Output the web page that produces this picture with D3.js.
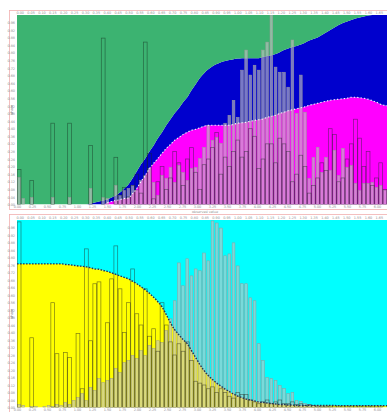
<!DOCTYPE html>
<html>
<head>
<meta charset="utf-8">
<script src="https://cdn.jsdelivr.net/npm/d3@7"></script>
<style>
  body { margin: 0; background: #fff; }
  svg { display: block; }
  text { font-family: "DejaVu Sans", sans-serif; }
</style>
</head>
<body>
<svg id="chart" width="387" height="412"></svg>
<script>
// ---------- data ----------
const N = 88;
const categories = d3.range(N);

// upper panel: stacked shares (percent) per bin
const pinkShare = [
  0,0,0,0,0,0,0,0,0,0,0,0,0,0,0,0,0,0,0,0,0,
  1,1.6,2.1,2.6,3.2,3.4,5.8,8.5,12.2,15.3,19,21.7,24.3,27,29.6,31.7,33.9,35.4,37,38.1,39.2,39.7,40.5,41.3,41.8,
  41.8,41.8,41.8,41.8,41.8,42.3,42.9,43.1,43.4,43.9,44.4,44.7,45.2,46,46.6,47.1,48.1,48.7,49.5,50,50.5,51.1,51.6,
  52.4,52.9,53.4,54,54.5,55,55.3,55.6,55.8,56.1,56.6,56.6,56.3,56.1,55.6,54.8,54,52.9,52.1
];
const blueShare = [
  0,0,0,0,0,0,0,0,0,0,0,0,0,0,0,0,0,
  0.5,1,1.6,2.1,1.6,2.1,2.7,3.7,5.3,7.2,8,9,9,9,9,9.5,10.6,11.1,12.2,13.3,14.2,15.4,17,18.5,21.1,23.8,26.2,28,29.6,
  31.2,32.3,33.3,33.9,34.4,34.4,34.1,34.1,33.8,33.3,32.8,32.5,32.6,32.3,32.2,32.3,32.3,32.8,32.8,33.1,33.1,33.3,
  33.8,34.1,34.4,34.7,35.4,36.2,37.1,38.1,39.1,40,40.5,40.8,41.5,42.4,43.1,44.1,45.2,46,47.1,47.9
];
const greenShare = [
  100,100,100,100,100,100,100,100,100,100,100,100,100,100,100,100,100,
  99.5,99,98.4,97.9,97.4,96.3,95.2,93.7,91.5,89.4,86.2,82.5,78.8,75.7,72,68.8,65.1,61.9,58.2,55,51.9,49.2,46,43.4,
  39.7,36.5,33.3,30.7,28.6,27,25.9,24.9,24.3,23.8,23.3,23,22.8,22.8,22.8,22.8,22.8,22.2,21.7,21.2,20.6,19.6,18.5,
  17.7,16.9,16.4,15.6,14.6,13.5,12.7,11.9,10.6,9.3,7.9,6.6,5.3,4.2,3.4,2.6,1.9,1.3,0.8,0.3,0,0,0,0
];
// upper panel: filled counts and outlined counts
const upperFilled = [
  14.3,3.2,0,3.7,0,0,0,0,3.7,0,0,0,3.7,0,0,0,0,8.5,0,0,3.7,3.2,0,10.1,
  4.8,7.4,8.5,10,7.4,12.7,15.3,19,11.6,4.8,15.3,13.8,19.6,11.6,20.6,16.9,12.7,19,19.6,24.3,30.2,41.8,
  33.9,35.4,32.3,42.9,47.1,55,46,70.9,81.5,68.3,73.5,70.9,81.5,85.7,100,72.5,69.8,69.8,61.9,86.8,48.1,
  68.3,48.7,13.8,24.9,30.2,16.9,24.9,18,28.6,15.3,29.6,19.6,20.6,11.1,7.4,11.1,11.1,11.6,9,10,7.4
];
const upperOutline = [
  18.5,0,0,12.7,0,0,0,0,42.9,0,0,0,42.9,0,0,0,0,31.2,0,0,87.8,0,0,24.9,
  5,9,4,10,16,6,85.7,27,3,12,20,8,14,28,22,10,24,30,17,8,21,24,30,38,16,25,20,28,34,25,28,40,36,19,
  24,32,32,22,35,32,28,12,16,26,20,6,10,14,22,18,40,37,12,14,24,32,45,35,20,28,10,14,22,8
];

// lower panel: stacked shares (percent) per bin
const yellowShare = [
  76.6,76.6,76.6,76.6,76.6,76.6,76.6,76.6,76.6,76.6,76.6,76.3,76.1,75.8,75.5,75.3,75,74.5,73.9,73.7,73.1,
  72.6,71.8,71,70.2,69.4,68.6,67.3,66,64.4,62.8,60.9,58.8,56.4,53.7,49.5,45.2,41.5,38.8,36.2,34,30.3,26.6,
  22.9,19.7,17,14.9,13,11.4,9.8,8.5,7.2,6.1,5.3,4.5,4,3.5,2.9,2.7,2.4,2.1,1.9,1.6,1.6,1.3,1.3,
  1.1,1.1,1.1,1.1,1.1,1.1,1.1,1.1,1.1,1.1,0.9,0.9,0.9,0.9,0.9,0.9,0.9,0.9,0.9,0.9,0.9,0.9
];
const cyanShare = [
  23.4,23.4,23.4,23.4,23.4,23.4,23.4,23.4,23.4,23.4,23.4,23.7,23.9,24.2,24.5,24.7,25,25.5,26.1,26.3,26.9,
  27.4,28.2,29,29.8,30.6,31.4,32.7,34,35.6,37.2,39.1,41.2,43.6,46.3,50.5,54.8,58.5,61.2,63.8,66,69.7,73.4,
  77.1,80.3,83,85.1,87,88.6,90.2,91.5,92.8,93.9,94.7,95.5,96,96.5,97.1,97.3,97.6,97.9,98.1,98.4,98.4,98.7,98.7,
  98.9,98.9,98.9,98.9,98.9,98.9,98.9,98.9,98.9,98.9,99.1,99.1,99.1,99.1,99.1,99.1,99.1,99.1,99.1,99.1,99.1,99.1
];
// lower panel: filled counts and outlined counts
const lowerFilled = [
  1.6,1.1,0,0.5,0.5,0,0.5,1.1,0.5,1.6,1.1,2.7,1.6,3.7,5.3,7.4,3.7,10.6,9,15.4,13.3,14.4,15.4,20.7,18.6,
  23.9,25,27.7,26.1,30.3,27.7,33,31.4,35.6,34.6,41,47.3,56.9,77.1,64.9,79.3,70.2,73.9,72.9,82.4,78.2,
  99.5,98.4,95.7,80.9,81.9,87.8,75.5,66,66,58.5,56.9,34,25,16,15.4,14.4,11.7,10.1,7.4,8,3.7,3.2,2.1,1.6,1.1,
  0.8,0.5,0.5,0.3,0,0,0,0,0,0,0,0,0,0,0,0,0
];
const lowerOutline = [
  99,0,0,37.2,0,0,0,0,55.9,28.7,0,29.3,26.6,0,39.4,10,84.6,35.6,66,67,0,45.2,68.6,86.2,63.3,40,55.9,73.9,
  50,44,63.3,38,42,30,55.9,44,35,28,34,30,35,25,14,13,12,10,11,8,10,8,6,5,8,7,7,4,3,2,3,4,2,3,4,2,2,3,
  1.5,2,1,1.5,1,0.8,0.8,0.8,0.8,0.8,0.8,0.8,0.8,0.8,0.8,0.8,0.8,0.8,0.8,0.8,0.8
];

// tick labels
const upperTopTicks = d3.range(0, 34);
const lowerTopTicks = d3.range(0, 34);
const bottomTicks = d3.range(0, 25);
const leftTicks = d3.range(0, 100, 4);

// ---------- layout ----------
const svg = d3.select("#chart");
const X0 = 17, X1 = 387;
const panels = [
  { top: 15, bottom: 204.5, frameTop: 10, frameBottom: 209,
    keys: ["pink", "blue", "green"], colors: ["#ff00ff", "#0000cd", "#3cb371"],
    shares: [pinkShare, blueShare, greenShare],
    filled: upperFilled, outline: upperOutline,
    dotColor: "#ffffff", dash: "1.2,2.2", dotWidth: 1.1,
    outlineColor: "rgba(20,40,30,0.55)", topTicks: upperTopTicks, title: "share" },
  { top: 220, bottom: 407.5, frameTop: 214, frameBottom: 430,
    keys: ["yellow", "cyan"], colors: ["#ffff00", "#00ffff"],
    shares: [yellowShare, cyanShare],
    filled: lowerFilled, outline: lowerOutline,
    dotColor: "#2b3350", dash: "1.6,1.4", dotWidth: 1.4,
    outlineColor: "rgba(40,40,30,0.6)", topTicks: lowerTopTicks, title: "share" }
];

const xBand = d3.scaleBand().domain(categories).range([X0, X1]).paddingInner(0.35).paddingOuter(0.175);
const xWide = d3.scaleBand().domain(categories).range([X0, X1]).paddingInner(0.1).paddingOuter(0.05);
const xIdx = d3.scaleLinear().domain([-0.5, N - 0.5]).range([X0, X1]);
const xTop = d3.scaleLinear().domain([-0.25, 33.75]).range([X0, X1]);
const xBottom = d3.scaleLinear().domain([0, 24.67]).range([X0, X1]);

panels.forEach((p, pi) => {
  const y = d3.scaleLinear().domain([0, 100]).range([p.bottom, p.top]);
  const g = svg.append("g");

  // frame
  g.append("rect")
    .attr("x", 9.5).attr("y", p.frameTop + 0.5)
    .attr("width", 400).attr("height", p.frameBottom - p.frameTop)
    .attr("fill", "none").attr("stroke", "#f2b0b0").attr("stroke-width", 0.8);

  const clipId = "clip" + pi;
  svg.append("clipPath").attr("id", clipId)
    .append("rect").attr("x", X0).attr("y", p.top)
    .attr("width", X1 - X0).attr("height", p.bottom - p.top);

  const plot = g.append("g").attr("clip-path", `url(#${clipId})`);

  // stacked areas
  const rows = categories.map(i => {
    const r = { i };
    p.keys.forEach((k, ki) => r[k] = p.shares[ki][i]);
    return r;
  });
  const stack = d3.stack().keys(p.keys)(rows);
  // first/last bins stretch to the plot edges
  const xOf = d => d.data.i === 0 ? xIdx(-0.5) : d.data.i === N - 1 ? xIdx(N - 0.5) : xIdx(d.data.i);
  const area = d3.area()
    .x(xOf).y0(d => y(d[0])).y1(d => y(d[1]))
    .curve(d3.curveMonotoneX);
  plot.selectAll("path.layer").data(stack).join("path")
    .attr("class", "layer")
    .attr("d", area)
    .attr("fill", (d, ki) => p.colors[ki]);

  // filled bars
  plot.selectAll("rect.filled").data(categories.filter(i => p.filled[i] > 0)).join("rect")
    .attr("class", "filled")
    .attr("x", i => xBand(i)).attr("width", xBand.bandwidth())
    .attr("y", i => y(p.filled[i])).attr("height", i => y(0) - y(p.filled[i]))
    .attr("fill", "#c4c4c4").attr("fill-opacity", 0.62)
    .attr("stroke", "#9a9a9a").attr("stroke-width", 0.5);

  // outlined bars
  plot.selectAll("rect.outline").data(categories.filter(i => p.outline[i] > 0)).join("rect")
    .attr("class", "outline")
    .attr("x", i => xWide(i)).attr("width", xWide.bandwidth())
    .attr("y", i => y(p.outline[i])).attr("height", i => y(0) - y(p.outline[i]))
    .attr("fill", "none").attr("stroke", p.outlineColor).attr("stroke-width", 0.7);

  // dotted boundary of the first layer
  const firstShare = p.shares[0];
  const line = d3.line()
    .defined(i => firstShare[i] > 0)
    .x(i => i === 0 ? xIdx(-0.5) : i === N - 1 ? xIdx(N - 0.5) : xIdx(i))
    .y(i => y(firstShare[i]))
    .curve(d3.curveMonotoneX);
  plot.append("path").attr("d", line(categories))
    .attr("fill", "none").attr("stroke", p.dotColor)
    .attr("stroke-width", p.dotWidth).attr("stroke-dasharray", p.dash);

  // axes
  const tickStyle = sel => {
    sel.select(".domain").remove();
    sel.selectAll(".tick line").remove();
    sel.selectAll("text").attr("font-size", 3.4).attr("fill", "#8f8f8f");
  };
  g.append("g").attr("transform", `translate(0,${p.top - 0.5})`)
    .call(d3.axisTop(xTop).tickValues(p.topTicks).tickSize(0).tickPadding(0.8)
      .tickFormat(d => (d * 0.05).toFixed(2)))
    .call(tickStyle);
  g.append("g").attr("transform", `translate(0,${p.bottom + 0.3})`)
    .call(d3.axisBottom(xBottom).tickValues(bottomTicks).tickSize(0).tickPadding(1)
      .tickFormat(d => (d * 0.25).toFixed(2)))
    .call(tickStyle);
  g.append("g").attr("transform", `translate(${X0 - 1},0)`)
    .call(d3.axisLeft(y).tickValues(leftTicks).tickSize(0).tickPadding(1)
      .tickFormat(d => (d / 100).toFixed(2)))
    .call(tickStyle);

  // y axis title
  g.append("text")
    .attr("transform", `translate(12.5,${(p.top + p.bottom) / 2}) rotate(-90)`)
    .attr("text-anchor", "middle").attr("font-size", 3.6).attr("fill", "#777")
    .text(p.title);
});

// x axis title between the panels
svg.append("text").attr("x", 205).attr("y", 212.6)
  .attr("text-anchor", "middle").attr("font-size", 3.4).attr("fill", "#8f8f8f")
  .text("observed value");
</script>
</body>
</html>
